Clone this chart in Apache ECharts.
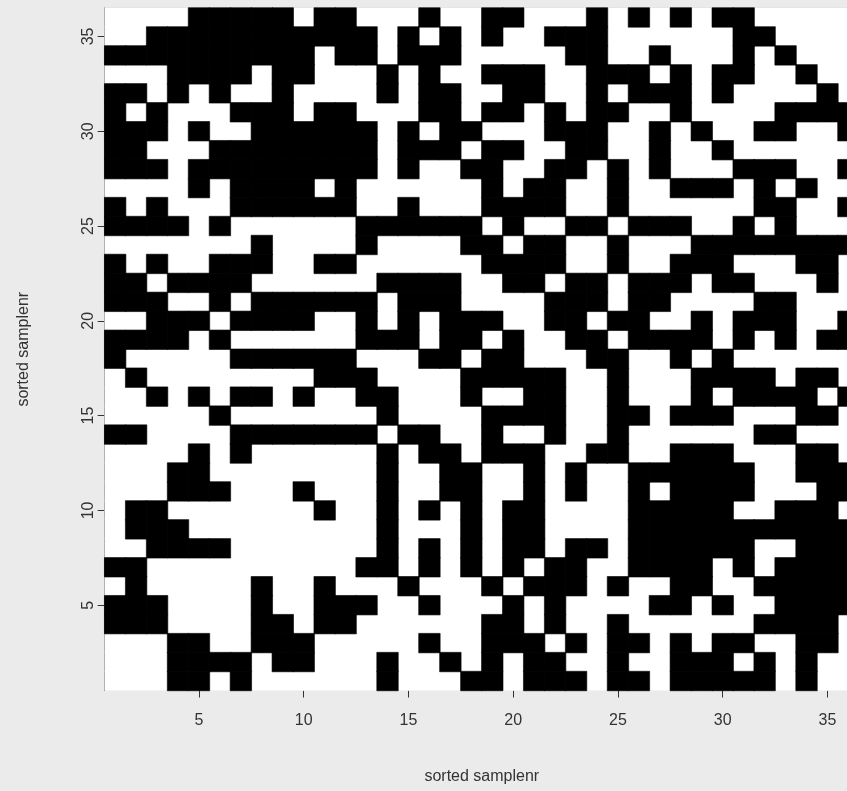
<!DOCTYPE html>
<html><head><meta charset="utf-8">
<script src="https://cdn.jsdelivr.net/npm/echarts@6/dist/echarts.min.js"></script>
<style>html,body{margin:0;padding:0;background:#ebebeb;overflow:hidden;width:847px;height:791px;}#c{width:870px;height:791px;}</style>
</head><body><div id="c"></div>
<script>
// categories: sorted sample numbers 1..36 (both axes)
const sampleNumbers = ["1","2","3","4","5","6","7","8","9","10","11","12","13","14","15","16","17","18","19","20","21","22","23","24","25","26","27","28","29","30","31","32","33","34","35","36"];
const tickLabels = ["5","10","15","20","25","30","35"];
const xTitle = "sorted samplenr";
const yTitle = "sorted samplenr";
// black cells (value 1) per row, listed from top row (36) down to bottom row (1); other cells are 0
const rowsTopDown = [
  "5-9,11-12,16,19-20,24,26,28,30-31",            // 36
  "3-13,15,17,19,22-24,31-32",                    // 35
  "1-10,12-13,15-17,23-24,27,31,33",              // 34
  "4-7,9-10,14,16,19-21,24-26,28,30-31,34",       // 33
  "1-2,4,6,9,14,16-17,20-21,24,26-28,30,35",      // 32
  "1,3,7-9,11-12,16-17,19-20,22,24-25,28,33-36",  // 31
  "1-3,5,8-13,15,17-18,22-24,27,29,32-33,36",     // 30
  "1-2,6-13,15-17,19-20,23-24,27,30",             // 29
  "1-3,5-13,15,18-19,22-23,25,27,31-33,36",       // 28
  "5,7-10,12,19,21-22,25,28-30,32,34",            // 27
  "1,3,7-12,15,19-22,25,32-33,36",                // 26
  "1-4,6,13-18,20,23-24,26-28,31,33",             // 25
  "8,13,18-19,21-22,25,29-36",                    // 24
  "1,3,6-8,11-12,19-22,25,28-30,34-35",           // 23
  "1-2,4-7,14-17,20-21,23-24,26-28,30-31,35",     // 22
  "1-3,6,8-13,15-17,22-24,26-27,32-33",           // 21
  "3-5,7-10,13,15,17-19,22-23,25-26,29,31-33,36", // 20
  "1-4,6,13-15,17-18,20,23-24,26-29,31,33,35-36", // 19
  "1,7-12,16-17,19-20,24-25,28,30",               // 18
  "2,11-13,18-22,25,29-32,34-35",                 // 17
  "3,5,7-8,10,13-14,18,21-22,25,29,31-34,36",     // 16
  "6,14,19-22,25-26,28-30,34-35",                 // 15
  "1-2,7-13,15-16,19,22,25,32-33",                // 14
  "5,7,14,16-17,19-21,24-25,28-30,34-35",         // 13
  "4-5,14,17-18,21,23,26-31,34-36",               // 12
  "4-6,10,14,17-18,21,23,26,28-31,35-36",         // 11
  "2-3,11,14,16,18,20-21,26-30,33-35",            // 10
  "2-4,14,18,20-21,26-36",                        // 9
  "3-6,14,16,18,20-21,23-24,26-31,34-36",         // 8
  "1-2,13-14,16,18,20,22-23,26-29,31,33-36",      // 7
  "2,8,11,15,19,21-23,25,28-29,32-36",            // 6
  "1-3,8,11-13,16,20,22,27-28,30,33-36",          // 5
  "1-3,8-9,11-12,19-20,22,25,32-35",              // 4
  "4-5,8-10,16,19-21,23,25-26,28,30-31,34-35",    // 3
  "4-7,9-10,14,17,19,21-22,25,28-30,32,34",       // 2
  "4-5,7,14,18-19,21-23,25-26,28-32,34"           // 1
];

function parseRuns(s) {
  const set = new Set();
  s.split(',').forEach(p => {
    const [a, b] = p.split('-').map(Number);
    for (let k = a; k <= (b || a); k++) set.add(k);
  });
  return set;
}
const n = sampleNumbers.length;
const whiteCells = [], blackCells = [];
rowsTopDown.forEach((s, i) => {
  const row = n - i;
  const set = parseRuns(s);
  for (let c = 1; c <= n; c++) {
    const v = set.has(c) ? 1 : 0;
    if (v) blackCells.push({ value: [c - 1, row - 1, 1], itemStyle: { color: '#000', borderColor: '#000', borderWidth: 0.6 } });
    else whiteCells.push({ value: [c - 1, row - 1, 0], itemStyle: { color: '#fff' } });
  }
});
const showTick = (idx) => tickLabels.indexOf(sampleNumbers[idx]) >= 0;
const font = 'Liberation Sans, Arial, sans-serif';
const chart = echarts.init(document.getElementById('c'), null, { renderer: 'canvas' });
chart.setOption({
  animation: false,
  backgroundColor: '#ebebeb',
  grid: { left: 104.7, top: 8, width: 754.2, height: 682.5, show: true, backgroundColor: '#fff', borderColor: '#cfcfcf', borderWidth: 1 },
  xAxis: {
    type: 'category', data: sampleNumbers,
    axisLine: { show: false },
    axisTick: { show: true, interval: showTick, alignWithLabel: true, length: 7, lineStyle: { color: '#333' } },
    axisLabel: { interval: showTick, fontSize: 16, color: '#333', margin: 22, fontFamily: font },
    splitLine: { show: false },
    name: xTitle, nameLocation: 'middle', nameGap: 78,
    nameTextStyle: { fontSize: 16, color: '#333', fontFamily: font }
  },
  yAxis: {
    type: 'category', data: sampleNumbers,
    axisLine: { show: true, lineStyle: { color: '#555', width: 1 } },
    axisTick: { show: true, interval: showTick, alignWithLabel: true, length: 7, lineStyle: { color: '#333' } },
    axisLabel: { interval: showTick, fontSize: 16, color: '#333', rotate: 90, margin: 8, fontFamily: font },
    splitLine: { show: false },
    name: yTitle, nameLocation: 'middle', nameGap: 73, nameRotate: 90,
    nameTextStyle: { fontSize: 16, color: '#333', fontFamily: font }
  },
  series: [{
    type: 'heatmap',
    data: whiteCells.concat(blackCells),
    emphasis: { disabled: true },
    progressive: 0
  }]
});
</script></body></html>
